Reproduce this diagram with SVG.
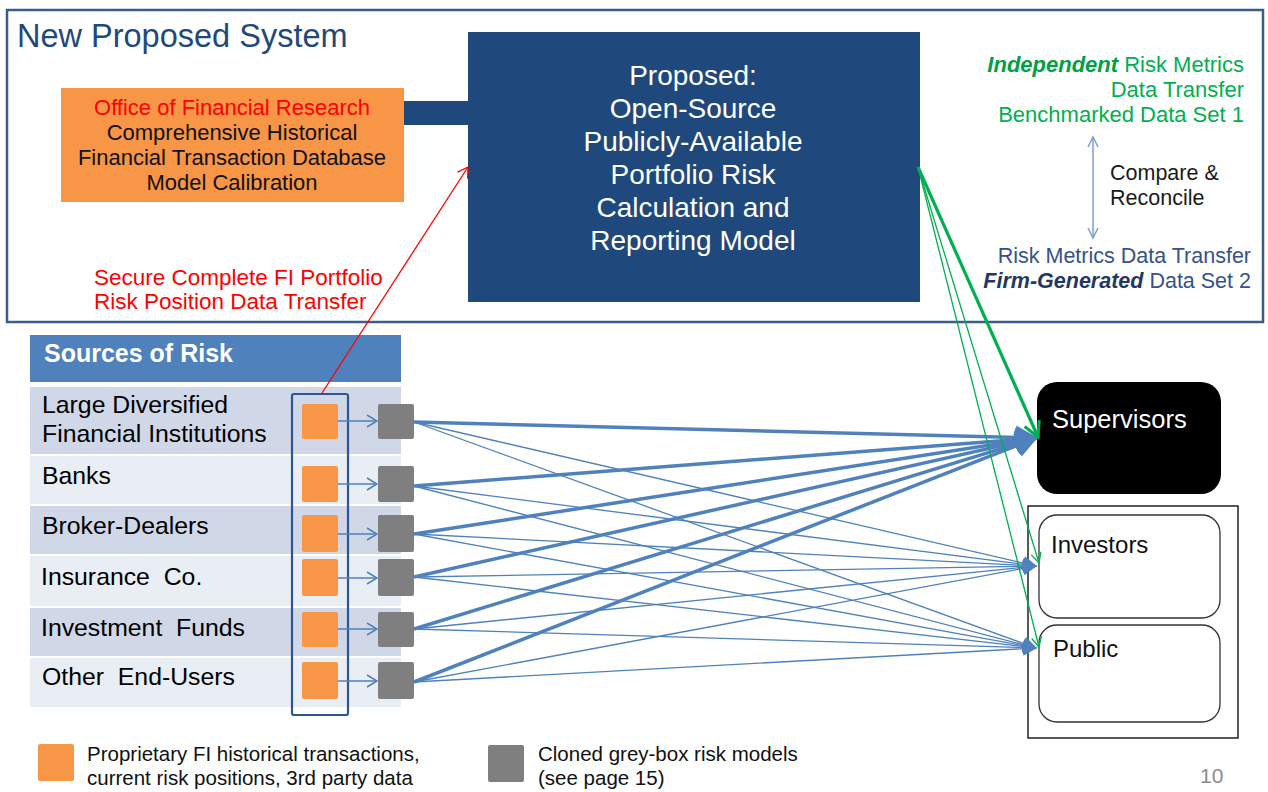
<svg xmlns="http://www.w3.org/2000/svg" width="1268" height="792" viewBox="0 0 1268 792">
<defs>
<style>
text{font-family:"Liberation Sans",Arial,sans-serif}
.ora{fill:#F79646}
.gry{fill:#7F7F7F}
.bl{stroke:#4F81BD;fill:none}
.thick{stroke-width:3.5}
.thin{stroke-width:1.3}
.row1{fill:#D0D8E8}
.row2{fill:#E9EDF4}
.rowt{font-size:24.8px;fill:#000}
.wt{fill:#fff}
.leg{font-size:20.5px;fill:#111}
</style>
<marker id="bigHead" markerUnits="userSpaceOnUse" markerWidth="22" markerHeight="24" refX="20" refY="12" orient="auto" viewBox="0 0 22 24">
<path d="M0,0 L22,12 L0,24 z" fill="#4F81BD"/>
</marker>
<marker id="smHead" markerUnits="userSpaceOnUse" markerWidth="14" markerHeight="14" refX="13" refY="7" orient="auto" viewBox="0 0 14 14">
<path d="M0,0 L14,7 L0,14 z" fill="#4F81BD"/>
</marker>
<marker id="openBlue" markerUnits="userSpaceOnUse" markerWidth="12" markerHeight="14" refX="11" refY="7" orient="auto-start-reverse" viewBox="0 0 12 14">
<path d="M1,1 L11,7 L1,13" fill="none" stroke="#4F81BD" stroke-width="1.5"/>
</marker>
<marker id="openLB" markerUnits="userSpaceOnUse" markerWidth="14" markerHeight="12" refX="11" refY="6" orient="auto-start-reverse" viewBox="0 0 14 12">
<path d="M1,1 L11,6 L1,11" fill="none" stroke="#7F9FCF" stroke-width="1.5"/>
</marker>
<marker id="openRed" markerUnits="userSpaceOnUse" markerWidth="12" markerHeight="14" refX="11" refY="7" orient="auto" viewBox="0 0 12 14">
<path d="M1,1 L11,7 L1,13" fill="none" stroke="#FF0000" stroke-width="1.3"/>
</marker>
<marker id="openGreenBig" markerUnits="userSpaceOnUse" markerWidth="20" markerHeight="20" refX="17" refY="10" orient="auto" viewBox="0 0 20 20">
<path d="M2,2 L17,10 L2,18" fill="none" stroke="#00B050" stroke-width="3"/>
</marker>
<marker id="openGreen" markerUnits="userSpaceOnUse" markerWidth="12" markerHeight="12" refX="11" refY="6" orient="auto" viewBox="0 0 12 12">
<path d="M1,1 L11,6 L1,11" fill="none" stroke="#00B050" stroke-width="1.3"/>
</marker>
</defs>
<rect width="1268" height="792" fill="#fff"/>

<g id="proposed-system-frame">
<rect x="7" y="10" width="1256" height="312" fill="none" stroke="#385D8A" stroke-width="2.5"/>
<text x="17" y="47" font-size="32.5" fill="#1F497D">New Proposed System</text>
</g>

<g id="ofr">
<rect x="61" y="88" width="343" height="114" class="ora"/>
<text x="232" y="115" font-size="22" text-anchor="middle" fill="#FF0000">Office of Financial Research</text>
<text x="232" y="140" font-size="22" text-anchor="middle" fill="#111">Comprehensive Historical</text>
<text x="232" y="165" font-size="22" text-anchor="middle" fill="#111">Financial Transaction Database</text>
<text x="232" y="190" font-size="22" text-anchor="middle" fill="#111">Model Calibration</text>
</g>

<g id="proposed-model">
<rect x="468" y="32" width="452" height="270" fill="#1F497D"/>
<g font-size="28" text-anchor="middle">
<text x="693" y="85" class="wt">Proposed:</text>
<text x="693" y="118" class="wt">Open-Source</text>
<text x="693" y="151" class="wt">Publicly-Available</text>
<text x="693" y="184" class="wt">Portfolio Risk</text>
<text x="693" y="217" class="wt">Calculation and</text>
<text x="693" y="250" class="wt">Reporting Model</text>
</g>
</g>

<g id="benchmarked-label" font-size="22" text-anchor="end">
<text x="1244" y="72" fill="#00B050"><tspan font-weight="bold" font-style="italic" fill="#00A044">Independent</tspan> Risk Metrics</text>
<text x="1244" y="97" fill="#00B050">Data Transfer</text>
<text x="1244" y="122" fill="#00B050">Benchmarked Data Set 1</text>
</g>
<g id="compare-label" font-size="21.5" fill="#1a1a1a">
<text x="1110" y="180">Compare &amp;</text>
<text x="1110" y="205">Reconcile</text>
</g>
<g id="firm-label" font-size="21.5" text-anchor="end">
<text x="1251" y="263" fill="#35528C">Risk Metrics Data Transfer</text>
<text x="1251" y="288" fill="#35528C"><tspan font-weight="bold" font-style="italic" fill="#1F3864">Firm-Generated</tspan> Data Set 2</text>
</g>
<g id="transfer-label" font-size="22.5" fill="#FF0000">
<text x="94" y="285">Secure Complete FI Portfolio</text>
<text x="94" y="309">Risk Position Data Transfer</text>
</g>

<g id="sources-table">
<rect x="30" y="335" width="371" height="47" fill="#4F81BD"/>
<text x="44" y="362" font-size="25" font-weight="bold" fill="#fff">Sources of Risk</text>
<rect x="30" y="387" width="371" height="67" class="row1"/>
<rect x="30" y="456" width="371" height="48" class="row2"/>
<rect x="30" y="506" width="371" height="48" class="row1"/>
<rect x="30" y="556" width="371" height="50" class="row2"/>
<rect x="30" y="608" width="371" height="48" class="row1"/>
<rect x="30" y="658" width="371" height="49" class="row2"/>
<text x="42" y="413" class="rowt">Large Diversified</text>
<text x="42" y="442" class="rowt">Financial Institutions</text>
<text x="42" y="484" class="rowt">Banks</text>
<text x="42" y="534" class="rowt">Broker-Dealers</text>
<text x="41" y="585" class="rowt" xml:space="preserve">Insurance  Co.</text>
<text x="41" y="636" class="rowt" xml:space="preserve">Investment  Funds</text>
<text x="42" y="685" class="rowt" xml:space="preserve">Other  End-Users</text>
</g>

<g id="proprietary-data">
<rect x="292" y="394" width="56" height="321" rx="2" fill="none" stroke="#2F5590" stroke-width="2.2"/>
<rect x="302" y="404" width="36" height="35" rx="2" class="ora"/>
<rect x="302" y="466" width="36" height="36" rx="2" class="ora"/>
<rect x="302" y="515" width="36" height="37" rx="2" class="ora"/>
<rect x="302" y="559" width="36" height="37" rx="2" class="ora"/>
<rect x="302" y="612" width="36" height="35" rx="2" class="ora"/>
<rect x="302" y="662" width="36" height="37" rx="2" class="ora"/>
</g>

<g id="grey-box-models">
<rect x="378" y="404" width="36" height="35" rx="2" class="gry"/>
<rect x="378" y="466" width="36" height="36" rx="2" class="gry"/>
<rect x="378" y="515" width="36" height="37" rx="2" class="gry"/>
<rect x="378" y="559" width="36" height="37" rx="2" class="gry"/>
<rect x="378" y="612" width="36" height="35" rx="2" class="gry"/>
<rect x="378" y="662" width="36" height="37" rx="2" class="gry"/>
</g>

<g id="supervisors">
<rect x="1037" y="382" width="184" height="112" rx="20" fill="#000"/>
<text x="1052" y="428" font-size="25.5" fill="#fff">Supervisors</text>
</g>
<g id="investors-public">
<rect x="1028" y="506" width="210" height="232" fill="none" stroke="#000" stroke-width="1.3"/>
</g>
<g id="investors">
<rect x="1039" y="515" width="181" height="103" rx="18" fill="#fff" stroke="#333" stroke-width="1.3"/>
<text x="1051" y="553" font-size="24" fill="#111">Investors</text>
</g>
<g id="public">
<rect x="1039" y="625" width="181" height="97" rx="18" fill="#fff" stroke="#333" stroke-width="1.3"/>
<text x="1053" y="657" font-size="24" fill="#111">Public</text>
</g>

<g id="legend">
<rect x="38" y="744" width="36" height="37" rx="2" class="ora"/>
<text x="87" y="761" class="leg">Proprietary FI historical transactions,</text>
<text x="87" y="785" class="leg">current risk positions, 3rd party data</text>
<rect x="488" y="745" width="36" height="37" rx="2" class="gry"/>
<text x="538" y="761" class="leg">Cloned grey-box risk models</text>
<text x="538" y="785" class="leg">(see page 15)</text>
<text x="1200" y="783" font-size="21" fill="#8C8C8C">10</text>
</g>

<g id="connectors">
<rect x="404" y="101" width="66" height="24" fill="#1F497D"/>
<line x1="322" y1="393" x2="468" y2="167" stroke="#FF0000" stroke-width="1.3" marker-end="url(#openRed)"/>
<line x1="1093" y1="137" x2="1093" y2="238" stroke="#7F9FCF" stroke-width="1.5" marker-start="url(#openLB)" marker-end="url(#openLB)"/>
<g class="bl" stroke-width="1.3">
<line x1="338" y1="421" x2="377" y2="421" marker-end="url(#openBlue)"/>
<line x1="338" y1="484" x2="377" y2="484" marker-end="url(#openBlue)"/>
<line x1="338" y1="534" x2="377" y2="534" marker-end="url(#openBlue)"/>
<line x1="338" y1="578" x2="377" y2="578" marker-end="url(#openBlue)"/>
<line x1="338" y1="629" x2="377" y2="629" marker-end="url(#openBlue)"/>
<line x1="338" y1="681" x2="377" y2="681" marker-end="url(#openBlue)"/>
</g>
<g class="bl thin">
<line x1="414" y1="422" x2="1036" y2="566" marker-end="url(#smHead)"/>
<line x1="414" y1="486" x2="1036" y2="566" marker-end="url(#smHead)"/>
<line x1="414" y1="534" x2="1036" y2="566" marker-end="url(#smHead)"/>
<line x1="414" y1="577" x2="1036" y2="566" marker-end="url(#smHead)"/>
<line x1="414" y1="629" x2="1036" y2="566" marker-end="url(#smHead)"/>
<line x1="414" y1="682" x2="1036" y2="566" marker-end="url(#smHead)"/>
<line x1="414" y1="422" x2="1036" y2="648" marker-end="url(#smHead)"/>
<line x1="414" y1="486" x2="1036" y2="648" marker-end="url(#smHead)"/>
<line x1="414" y1="534" x2="1036" y2="648" marker-end="url(#smHead)"/>
<line x1="414" y1="577" x2="1036" y2="648" marker-end="url(#smHead)"/>
<line x1="414" y1="629" x2="1036" y2="648" marker-end="url(#smHead)"/>
<line x1="414" y1="682" x2="1036" y2="648" marker-end="url(#smHead)"/>
</g>
<g class="bl thick">
<line x1="414" y1="422" x2="1036" y2="438" marker-end="url(#bigHead)"/>
<line x1="414" y1="486" x2="1036" y2="438" marker-end="url(#bigHead)"/>
<line x1="414" y1="534" x2="1036" y2="438" marker-end="url(#bigHead)"/>
<line x1="414" y1="577" x2="1036" y2="438" marker-end="url(#bigHead)"/>
<line x1="414" y1="629" x2="1036" y2="438" marker-end="url(#bigHead)"/>
<line x1="414" y1="682" x2="1036" y2="438" marker-end="url(#bigHead)"/>
</g>
<line x1="918" y1="167" x2="1038" y2="437" stroke="#00B050" stroke-width="3.2" marker-end="url(#openGreenBig)"/>
<line x1="918" y1="167" x2="1039" y2="563" stroke="#00B050" stroke-width="1.3" marker-end="url(#openGreen)"/>
<line x1="918" y1="167" x2="1039" y2="647" stroke="#00B050" stroke-width="1.3" marker-end="url(#openGreen)"/>
</g>
</svg>
